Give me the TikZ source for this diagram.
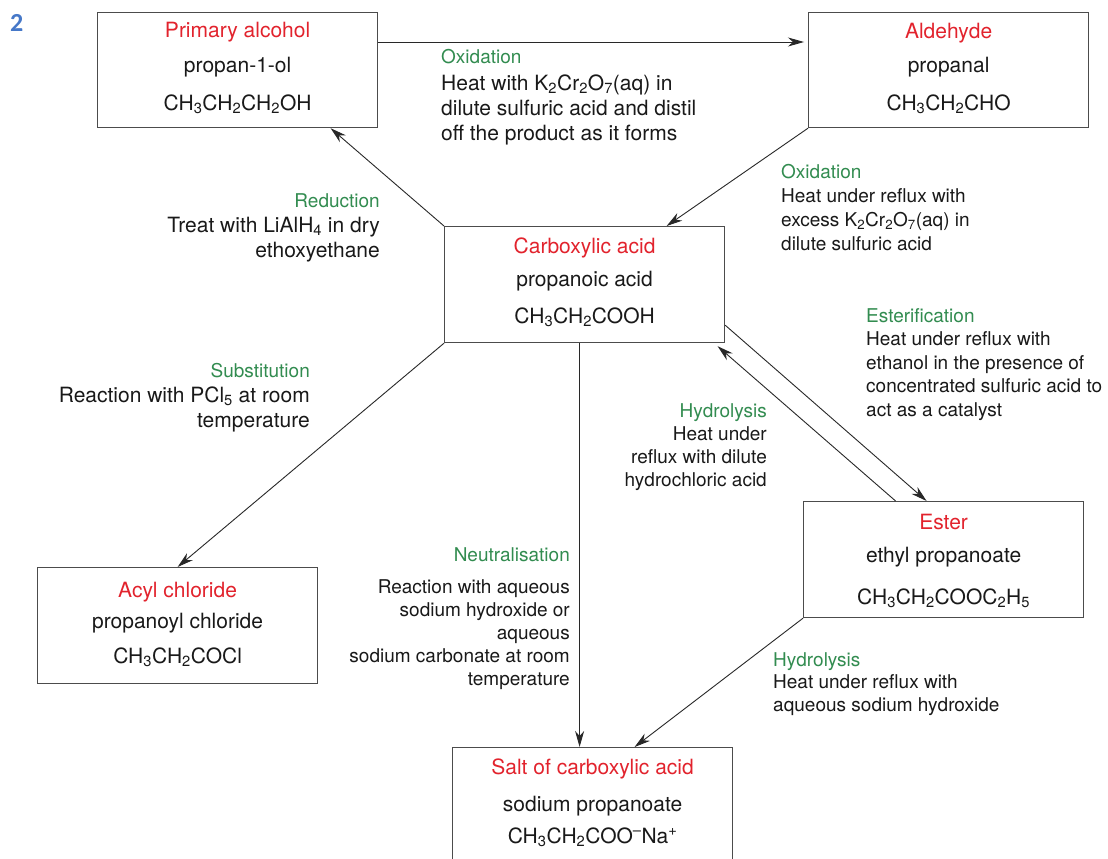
\documentclass[tikz,border=0pt]{standalone}
\usepackage{fontspec}
\setmainfont{TeX Gyre Heros}
\newfontfamily\numfont{Carlito}
\usetikzlibrary{arrows.meta,calc}
\definecolor{ttlred}{RGB}{226,35,45}
\definecolor{lblgreen}{RGB}{50,140,80}
\definecolor{numblue}{RGB}{70,120,200}
\definecolor{edgecol}{RGB}{40,40,40}
\definecolor{txtcol}{RGB}{25,25,25}
\newcommand{\lbltitle}[1]{{\fontsize{19}{25}\selectfont\color{lblgreen}#1}}
\begin{document}
\begin{tikzpicture}[x=1pt,y=-1pt,
 box/.style={draw=black!70, line width=1.2pt, minimum width=280pt, minimum height=115pt, inner sep=0pt, anchor=north west},
 ttl/.style={anchor=base, inner sep=0pt, text=ttlred, font=\fontsize{21}{25}\selectfont},
 btxt/.style={anchor=base, inner sep=0pt, text=txtcol, font=\fontsize{21}{25}\selectfont},
 lbl/.style={inner sep=0pt, text=txtcol, font=\fontsize{19}{23.5}\selectfont},
 arr/.style={draw=edgecol, line width=0.9pt, -{Stealth[length=16pt,width=9pt,inset=5pt]}}
]
\useasboundingbox (0,0) rectangle (1108,859);
\fill[white] (0,0) rectangle (1108,859);

\node[anchor=base west, inner sep=0pt, text=numblue, font=\numfont\bfseries\fontsize{26}{30}\selectfont] (num) at (10,32) {2};

% boxes
\node[box] (pa) at (97,12) {};
\node[box] (ald) at (808,12) {};
\node[box, minimum height=116pt] (ca) at (444,226) {};
\node[box, minimum height=116pt] (acyl) at (37,567) {};
\node[box, minimum height=116pt] (est) at (803,501) {};
\node[box, minimum height=116pt] (salt) at (452,747) {};

% box texts
\node[ttl] (pa1) at ([yshift=-26pt]pa.north) {Primary alcohol};
\node[btxt] (pa2) at ([yshift=-60pt]pa.north) {propan-1-ol};
\node[btxt] (pa3) at ([yshift=-98pt]pa.north) {CH\textsubscript{3}CH\textsubscript{2}CH\textsubscript{2}OH};

\node[ttl] (ald1) at ([yshift=-27pt]ald.north) {Aldehyde};
\node[btxt] (ald2) at ([yshift=-60pt]ald.north) {propanal};
\node[btxt] (ald3) at ([yshift=-98pt]ald.north) {CH\textsubscript{3}CH\textsubscript{2}CHO};

\node[ttl] (ca1) at ([yshift=-27pt]ca.north) {Carboxylic acid};
\node[btxt] (ca2) at ([yshift=-60pt]ca.north) {propanoic acid};
\node[btxt] (ca3) at ([yshift=-97pt]ca.north) {CH\textsubscript{3}CH\textsubscript{2}COOH};

\node[ttl] (acyl1) at ([yshift=-30pt]acyl.north) {Acyl chloride};
\node[btxt] (acyl2) at ([yshift=-61pt]acyl.north) {propanoyl chloride};
\node[btxt] (acyl3) at ([yshift=-96pt]acyl.north) {CH\textsubscript{3}CH\textsubscript{2}COCl};

\node[ttl] (est1) at ([yshift=-28pt]est.north) {Ester};
\node[btxt] (est2) at ([yshift=-61pt]est.north) {ethyl propanoate};
\node[btxt] (est3) at ([yshift=-103pt]est.north) {CH\textsubscript{3}CH\textsubscript{2}COOC\textsubscript{2}H\textsubscript{5}};

\node[ttl] (salt1) at ([yshift=-27pt]salt.north) {Salt of carboxylic acid};
\node[btxt] (salt2) at ([yshift=-64pt]salt.north) {sodium propanoate};
\node[btxt] (salt3) at ([yshift=-96pt]salt.north) {CH\textsubscript{3}CH\textsubscript{2}COO\textsuperscript{--}Na\textsuperscript{+}};

% reaction labels
\node[lbl, anchor=north west, align=left, font=\fontsize{21}{25}\selectfont] (lox1) at (441,49)
 {\lbltitle{Oxidation}\\[2pt]
  Heat with K\textsubscript{2}Cr\textsubscript{2}O\textsubscript{7}(aq) in\\
  dilute sulfuric acid and distil\\
  off the product as it forms};

\node[lbl, anchor=north west, align=left, font=\fontsize{19}{24}\selectfont] (lox2) at (781,164)
 {\lbltitle{Oxidation}\\
  Heat under reflux with\\
  excess K\textsubscript{2}Cr\textsubscript{2}O\textsubscript{7}(aq) in\\
  dilute sulfuric acid};

\node[lbl, anchor=north east, align=right, font=\fontsize{21}{25}\selectfont] (lred) at (380,193)
 {\lbltitle{Reduction}\\
  Treat with LiAlH\textsubscript{4} in dry\hspace*{8pt}\\
  ethoxyethane};

\node[lbl, anchor=north east, align=right, font=\fontsize{21}{25}\selectfont] (lsub) at (310,363)
 {\lbltitle{Substitution}\\
  Reaction with PCl\textsubscript{5} at room\\
  temperature};

\node[lbl, anchor=north west, align=left, font=\fontsize{19}{23.5}\selectfont] (lest) at (866,308)
 {\lbltitle{Esterification}\\
  Heat under reflux with\\
  ethanol in the presence of\\
  concentrated sulfuric acid to\\
  act as a catalyst};

\node[lbl, anchor=north east, align=right, font=\fontsize{19}{23.3}\selectfont] (lhyd1) at (767,403)
 {\lbltitle{Hydrolysis}\\
  Heat under\\
  reflux with dilute\\
  hydrochloric acid};

\node[lbl, anchor=north east, align=right, font=\fontsize{19}{23}\selectfont] (lneu) at (570,547)
 {\lbltitle{Neutralisation}\\[9pt]
  Reaction with aqueous\\
  sodium hydroxide or\\
  aqueous\hspace*{5pt}\\
  sodium carbonate at room\\
  temperature};

\node[lbl, anchor=north west, align=left, font=\fontsize{19}{22.5}\selectfont] (lhyd2) at (773,652)
 {\lbltitle{Hydrolysis}\\
  Heat under reflux with\\
  aqueous sodium hydroxide};

% connectors
\draw[arr] ([yshift=-30pt]pa.north east) -- ([yshift=-30pt,xshift=-4pt]ald.north west);
\draw[arr] (ald.south west) -- ([xshift=82pt]ca.north);
\draw[arr] (ca.north west) -- ([xshift=93pt]pa.south);
\draw[arr] (ca.south west) -- (acyl.north);
\coordinate (nv) at ([xshift=-5pt]ca.south);
\draw[arr] (nv) -- (nv |- salt.north);
\draw[arr] (est.south west) -- ([xshift=42pt]salt.north);
\draw[arr] ([yshift=18pt]ca.south east) -- ([xshift=-17pt]est.north);
\draw[arr] ([xshift=-48pt]est.north) -- ([xshift=133pt,yshift=-3pt]ca.south);
\end{tikzpicture}
\end{document}
